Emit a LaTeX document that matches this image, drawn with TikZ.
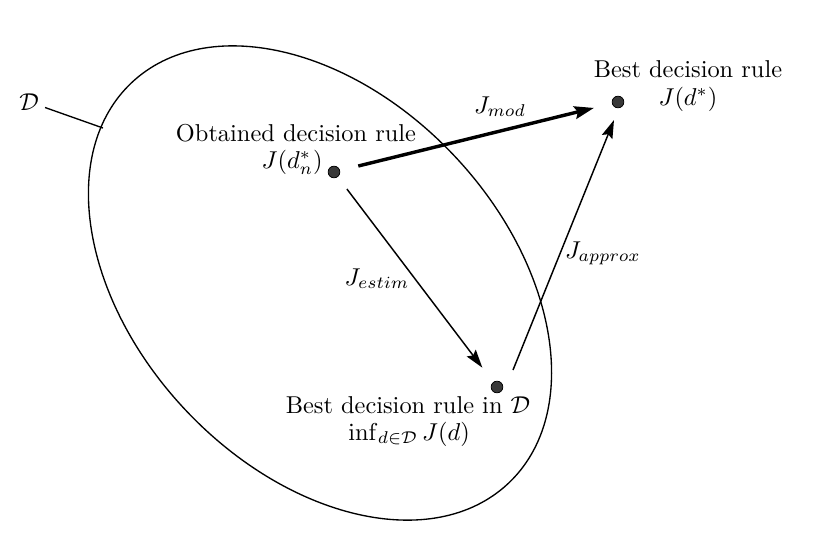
\documentclass[tikz,border=0pt]{standalone}
\usetikzlibrary{arrows.meta,calc}
\begin{document}
\begin{tikzpicture}[x=0.41pt,y=-0.41pt,
  dotnode/.style={circle,fill=black!78,draw=black,line width=0.3pt,inner sep=0pt,minimum size=4.8pt},
  lab/.style={inner sep=0pt,anchor=base},
  thinarrow/.style={line width=0.6pt,-{Stealth[length=7.5pt,width=4.6pt,inset=1.2pt]}},
  thickarrow/.style={line width=1.4pt,-{Stealth[length=8pt,width=5.2pt,inset=1.2pt]}},
  setline/.style={line width=0.55pt}]
\useasboundingbox (0,0) rectangle (838,556);
% the set D
\draw[setline, rotate around={-46.8:(320,283)}] (320,283) ellipse [x radius=112.75pt, y radius=75.85pt];
% points
\node[dotnode] (obt) at (334,172) {};
\node[dotnode] (best) at (618,102) {};
\node[dotnode] (bestD) at (497,387) {};
% labels
\node[lab] (Dlab) at (29,110) {$\mathcal{D}$};
\coordinate (Dhit) at (103,128);
\draw[setline] (45,107.5) -- (Dhit);
\node[lab] (bestt1) at (688,77) {Best decision rule};
\node[lab] (bestt2) at (688,105) {$J(d^*)$};
\node[lab] (obtt1) at (296,141) {Obtained decision rule};
\node[lab,anchor=base east] (obtt2) at (323,168) {$J(d_n^*)$};
\node[lab] (bdt1) at (408,413) {Best decision rule in $\mathcal{D}$};
\node[lab] (bdt2) at (409,440) {$\inf_{d\in\mathcal{D}} J(d)$};
\node[lab] (jmod) at (500,113) {$J_{mod}$};
\node[lab] (jest) at (377,285) {$J_{estim}$};
\node[lab] (japp) at (603,258) {$J_{approx}$};
% arrows
\draw[thickarrow, shorten <=7.7pt, shorten >=7.6pt] (obt) -- (best);
\draw[thinarrow, shorten <=6.2pt, shorten >=7.4pt] (obt) -- (bestD);
\draw[thinarrow] ($(bestD)+(16,-17)$) -- ($(best)+(-4,18)$);
\end{tikzpicture}
\end{document}
